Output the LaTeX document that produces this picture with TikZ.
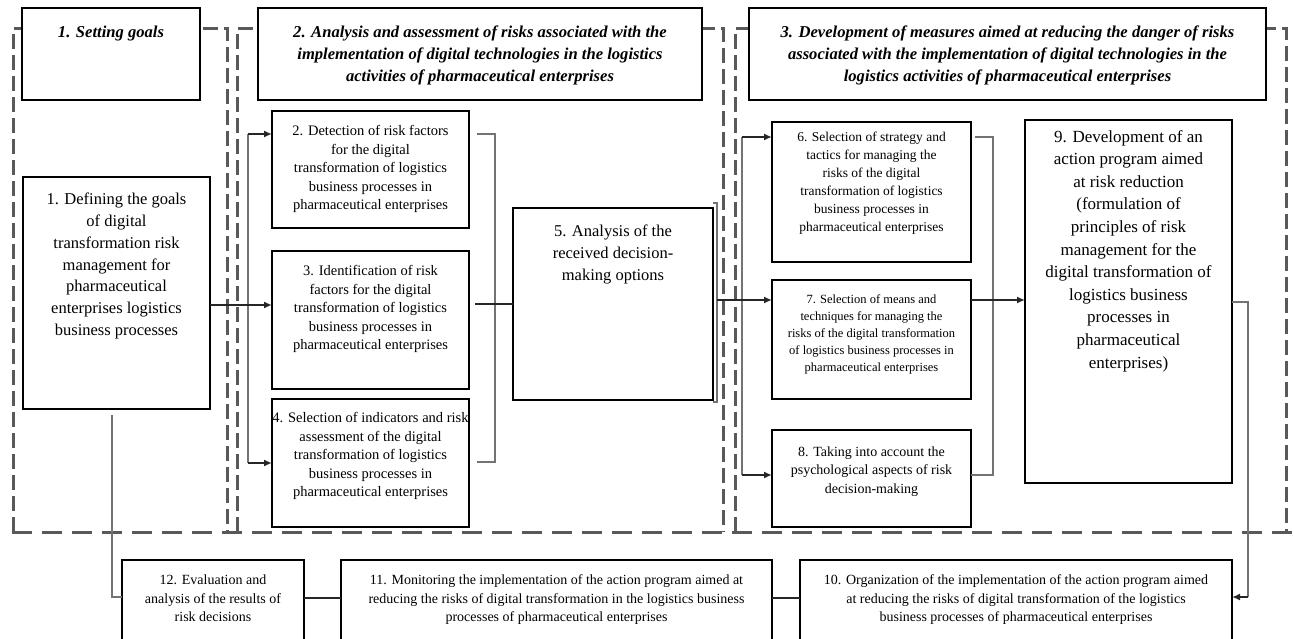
\documentclass[tikz,border=0pt]{standalone}
\usepackage{fontspec}
\setmainfont{Liberation Serif}
\usetikzlibrary{arrows.meta}
\newcommand\bt[4]{\parbox[c][#2pt][t]{#1pt}{\centering\vspace*{#3pt}\strut #4\par}}
\begin{document}
\begin{tikzpicture}[x=1pt,y=-1pt,
  frame/.style={draw=black!65, line width=3pt, dash pattern=on 15pt off 6pt},
  frameb/.style={draw=black!65, line width=3pt, dash pattern=on 20pt off 10pt},
  bx/.style={draw=black, line width=1.6pt, fill=white, inner sep=0pt, outer sep=0pt, anchor=north west},
  hd/.style={bx, line width=2pt, font=\fontsize{16.6}{22}\selectfont\bfseries\itshape},
  fbig/.style={font=\fontsize{16.5}{21.7}\selectfont},
  fmid/.style={font=\fontsize{14.5}{18.5}\selectfont},
  conn/.style={draw=black!85, line width=1.6pt},
  trunk/.style={draw=black!55, line width=1.8pt},
  arr/.style={conn, -{Latex[length=8pt,width=7pt]}}]
\useasboundingbox (0,0) rectangle (1294,639);
\clip (0,0) rectangle (1294,639);
\fill[white] (0,0) rectangle (1294,639);
% dashed frames
\draw[frame] (13,532) -- (13,29) -- (227,29) -- (227,532);
\draw[frame] (237,532) -- (237,29) -- (723,29) -- (723,532);
\draw[frame] (735,532) -- (735,29) -- (1286,29) -- (1286,532);
\draw[frameb] (12,532) -- (1292,532);
% headers
\node[hd] (h1) at (22,8) {\bt{178}{92}{14.3}{1. Setting goals}};
\node[hd] (h2) at (258,8) {\bt{444}{92}{14.3}{2. Analysis and assessment of risks associated with the\\ implementation of digital technologies in the logistics\\ activities of pharmaceutical enterprises}};
\node[hd] (h3) at (749,8) {\bt{517}{92}{14.3}{3. Development of measures aimed at reducing the danger of risks\\ associated with the implementation of digital technologies in the\\ logistics activities of pharmaceutical enterprises}};
% boxes
\node[bx, fbig] (b1) at (23,177) {\bt{187}{232}{12.8}{1. Defining the goals\\ of digital\\ transformation risk\\ management for\\ pharmaceutical\\ enterprises logistics\\ business processes}};
\node[bx, fmid] (b2) at (272,111) {\bt{197}{117}{12}{2. Detection of risk factors\\ for the digital\\ transformation of logistics\\ business processes in\\ pharmaceutical enterprises}};
\node[bx, fmid] (b3) at (272,251) {\bt{197}{138}{12}{3. Identification of risk\\ factors for the digital\\ transformation of logistics\\ business processes in\\ pharmaceutical enterprises}};
\node[bx, fmid] (b4) at (272,399) {\bt{197}{128}{11}{4. Selection of indicators and risk\\ assessment of the digital\\ transformation of logistics\\ business processes in\\ pharmaceutical enterprises}};
\node[bx, fbig] (b5) at (513,208) {\bt{200}{192}{13.8}{5. Analysis of the\\ received decision-\\ making options}};
\node[bx, font=\fontsize{13.5}{18}\selectfont] (b6) at (772,122) {\bt{199}{140}{6.5}{6. Selection of strategy and\\ tactics for managing the\\ risks of the digital\\ transformation of logistics\\ business processes in\\ pharmaceutical enterprises}};
\node[bx, font=\fontsize{12.5}{17}\selectfont] (b7) at (772,280) {\bt{199}{119}{11.5}{7. Selection of means and\\ techniques for managing the\\ risks of the digital transformation\\ of logistics business processes in\\ pharmaceutical enterprises}};
\node[bx, font=\fontsize{14}{18.5}\selectfont] (b8) at (772,430) {\bt{199}{97}{13.5}{8. Taking into account the\\ psychological aspects of risk\\ decision-making}};
\node[bx, font=\fontsize{17}{22.6}\selectfont] (b9) at (1025,120) {\bt{207}{363}{6.3}{9. Development of an\\ action program aimed\\ at risk reduction\\ (formulation of\\ principles of risk\\ management for the\\ digital transformation of\\ logistics business\\ processes in\\ pharmaceutical\\ enterprises)}};
\node[bx, font=\fontsize{14}{18.5}\selectfont] (b10) at (800,560) {\bt{432}{100}{12}{10. Organization of the implementation of the action program aimed\\ at reducing the risks of digital transformation of the logistics\\ business processes of pharmaceutical enterprises}};
\node[bx, font=\fontsize{14}{18.5}\selectfont] (b11) at (341,560) {\bt{431}{100}{12}{11. Monitoring the implementation of the action program aimed at\\ reducing the risks of digital transformation in the logistics business\\ processes of pharmaceutical enterprises}};
\node[bx, font=\fontsize{14}{18.5}\selectfont] (b12) at (122,560) {\bt{182}{100}{12}{12. Evaluation and\\ analysis of the results of\\ risk decisions}};
% connector coordinates
\coordinate (t1a) at (248,134);
\coordinate (t1b) at (248,463);
\coordinate (t1m) at (248,305);
\coordinate (k1s) at (477,134);
\coordinate (k1a) at (495,134);
\coordinate (k1b) at (495,462);
\coordinate (k1e) at (477,462);
\coordinate (k1m) at (475,304);
\coordinate (c5a) at (717,203);
\coordinate (c5b) at (717,402);
\coordinate (m5) at (717,300);
\coordinate (t2a) at (742,137);
\coordinate (t2b) at (742,475);
\coordinate (k2s) at (975,137);
\coordinate (k2a) at (993,137);
\coordinate (k2b) at (993,475);
\coordinate (m7) at (993,300);
\coordinate (k3a) at (1248,302);
\coordinate (k3b) at (1248,597);
\coordinate (k4) at (786,598);
\coordinate (k5) at (322,598);
\coordinate (k6a) at (112,415);
\coordinate (k6b) at (112,597);
% connectors
\draw[trunk] (t1a) -- (t1b);
\draw[conn] (b1.east |- t1m) -- (t1m);
\draw[arr] (t1m) -- (b3.west |- t1m);
\draw[arr] (t1a) -- (b2.west |- t1a);
\draw[arr] (t1b) -- (b4.west |- t1b);
\draw[trunk] (k1s) -- (k1a) -- (k1b) -- (k1e);
\draw[conn] (k1m) -- (b5.west |- k1m);
\draw[trunk, line width=1.4pt] ([xshift=-4pt]c5a) -- (c5a) -- (c5b) -- ([xshift=-4pt]c5b);
\draw[trunk] (t2a) -- (t2b);
\draw[arr] (m5) -- (b7.west |- m5);
\draw[arr] (t2a) -- (b6.west |- t2a);
\draw[arr] (t2b) -- (b8.west |- t2b);
\draw[trunk] (k2s) -- (k2a) -- (k2b) -- (b8.east |- k2b);
\draw[arr] (b7.east |- m7) -- (b9.west |- m7);
\draw[trunk] (b9.east |- k3a) -- (k3a) -- (k3b);
\draw[arr] (k3b) -- (b10.east |- k3b);
\draw[conn] (b10.west |- k4) -- (b11.east |- k4);
\draw[conn] (b11.west |- k5) -- (b12.east |- k5);
\draw[trunk] (k6a) -- (k6b) -- (b12.west |- k6b);
\end{tikzpicture}
\end{document}
